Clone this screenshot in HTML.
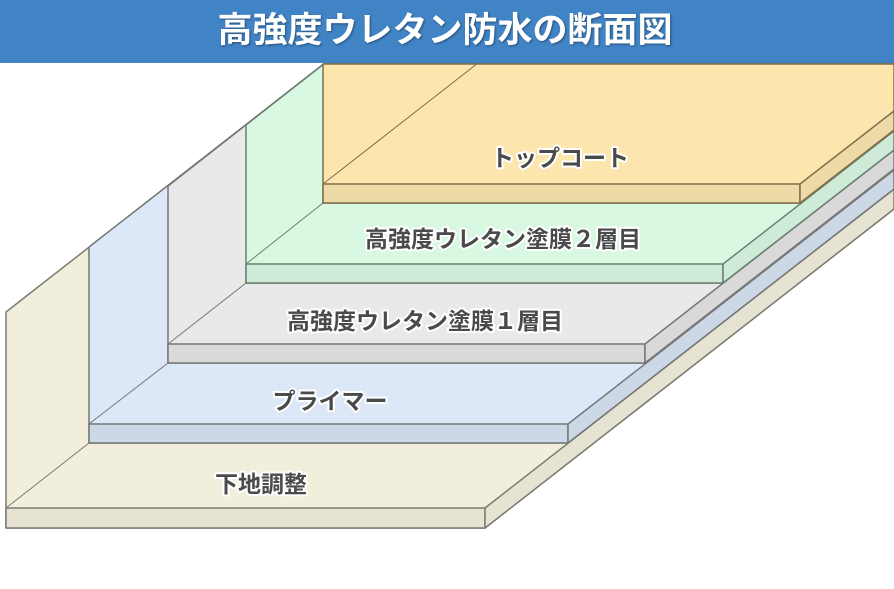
<!DOCTYPE html>
<html><head><meta charset="utf-8"><style>
html,body{margin:0;padding:0;background:#fff;}
svg{display:block;}
.lbl{font-family:"Liberation Sans","Noto Sans CJK JP",sans-serif;font-weight:bold;font-size:23px;fill:#4a4a4a;stroke:#fff;stroke-width:4px;paint-order:stroke;stroke-linejoin:round;}
.ttl{font-family:"Liberation Sans","Noto Sans CJK JP",sans-serif;font-weight:bold;font-size:35px;fill:#fff;}
</style></head><body>
<svg width="894" height="589" viewBox="0 0 894 589" xmlns="http://www.w3.org/2000/svg">
<g stroke-linejoin="round">
<polygon points="6,312 325,63 894,63 894,209 485,528 6,528" fill="#f2eedc" stroke="#7b7b72" stroke-width="1.5"/>
<rect x="6" y="508" width="479" height="20" fill="#e6e3d2" stroke="#7b7b72" stroke-width="1.5"/>
<polygon points="485,508 894,189 894,209 485,528" fill="#e6e3d2" stroke="#7b7b72" stroke-width="1.5"/>
<line x1="6" y1="508" x2="89" y2="443" stroke="#7b7b72" stroke-width="1"/>
<polygon points="89,247 325,63 894,63 894,189 568,443 89,443" fill="#dce8f7" stroke="#777" stroke-width="1.5"/>
<rect x="89" y="424" width="479" height="19" fill="#ccd8e6" stroke="#777" stroke-width="1.5"/>
<polygon points="568,424 894,170 894,189 568,443" fill="#ccd8e6" stroke="#777" stroke-width="1.5"/>
<line x1="89" y1="424" x2="168" y2="363" stroke="#777" stroke-width="1"/>
<polygon points="168,186 325,63 894,63 894,169 645,363 168,363" fill="#e9e9e9" stroke="#777" stroke-width="1.5"/>
<rect x="168" y="344" width="477" height="19" fill="#d9d9d9" stroke="#777" stroke-width="1.5"/>
<polygon points="645,344 894,150 894,169 645,363" fill="#d9d9d9" stroke="#777" stroke-width="1.5"/>
<line x1="168" y1="344" x2="246" y2="283" stroke="#777" stroke-width="1"/>
<polygon points="246,125 325,63 894,63 894,150 723,283 246,283" fill="#d9f8e1" stroke="#6d7f72" stroke-width="1.5"/>
<rect x="246" y="264" width="477" height="19" fill="#cdebd6" stroke="#6d7f72" stroke-width="1.5"/>
<polygon points="723,264 894,131 894,150 723,283" fill="#cdebd6" stroke="#6d7f72" stroke-width="1.5"/>
<line x1="246" y1="264" x2="323" y2="203" stroke="#6d7f72" stroke-width="1"/>
<polygon points="323,64 894,64 894,130 800,203 323,203" fill="#fde6ae" stroke="#7d6e4c" stroke-width="1.5"/>
<rect x="323" y="184" width="477" height="19" fill="#eedaa6" stroke="#7d6e4c" stroke-width="1.5"/>
<polygon points="800,184 894,111 894,130 800,203" fill="#eedaa6" stroke="#7d6e4c" stroke-width="1.5"/>
<line x1="323" y1="184" x2="478" y2="63" stroke="#7d6e4c" stroke-width="1"/>
</g>
<rect x="0" y="0" width="894" height="63" fill="#4184c6"/>
<text class="ttl" x="445" y="42" text-anchor="middle" style="filter:drop-shadow(1px 1px 1px rgba(0,0,0,0.4))">高強度ウレタン防水の断面図</text>
<text class="lbl" x="560" y="166" text-anchor="middle">トップコート</text>
<text class="lbl" x="503" y="247" text-anchor="middle">高強度ウレタン塗膜２層目</text>
<text class="lbl" x="425" y="329" text-anchor="middle">高強度ウレタン塗膜１層目</text>
<text class="lbl" x="330" y="409" text-anchor="middle">プライマー</text>
<text class="lbl" x="261" y="492" text-anchor="middle">下地調整</text>
</svg>
</body></html>
